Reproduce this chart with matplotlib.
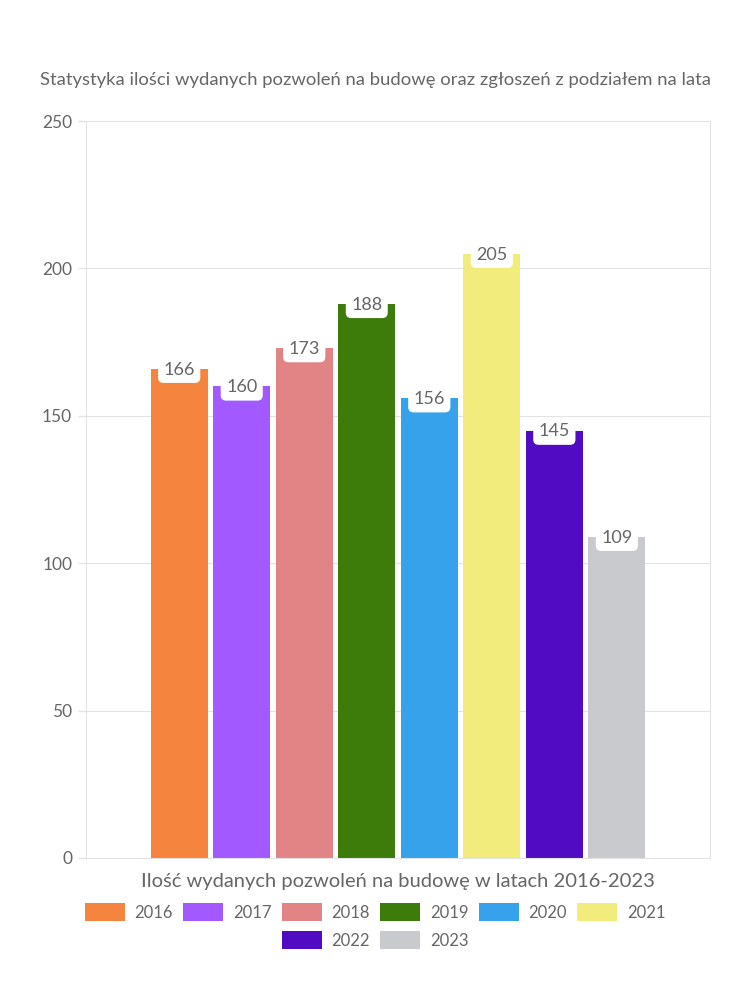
import matplotlib
matplotlib.use('Agg')
import matplotlib.pyplot as plt
from matplotlib.patches import Patch

years = ['2016', '2017', '2018', '2019', '2020', '2021', '2022', '2023']
permits = [166, 160, 173, 188, 156, 205, 145, 109]
colors = ['#F5843F', '#A259FF', '#E28385', '#3D7B0A', '#36A2EB', '#F1EC7C', '#510CC3', '#C9CACE']
yticks = [0, 50, 100, 150, 200, 250]

plt.rcParams['font.family'] = ['Lato', 'DejaVu Sans']
txt = '#666666'
grid = '#E3E3E3'

fig = plt.figure(figsize=(7.5, 10), dpi=100)
ax = fig.add_axes([0.1147, 0.142, 0.832, 0.737])

x = list(range(len(years)))
ax.bar(x, permits, width=0.91, color=colors, zorder=2)

# value labels sit in a white rounded box at the top of each bar
for xi, v in zip(x, permits):
    ax.text(xi, v - 0.3, str(v), ha='center', va='center', fontsize=13, color=txt, zorder=3,
            bbox=dict(boxstyle='round,pad=0.3,rounding_size=0.3', facecolor='white', edgecolor='none'))

ax.set_xlim(-1.49, 8.49)
ax.set_ylim(0, 250)
ax.set_yticks(yticks)
ax.set_xticks([])
ax.tick_params(axis='y', colors=grid, labelcolor=txt, labelsize=12.5, length=6, width=1, pad=4)
ax.grid(axis='y', color=grid, linewidth=0.8, zorder=0)
for s in ['left', 'right', 'top', 'bottom']:
    ax.spines[s].set_color(grid)
    ax.spines[s].set_linewidth(0.8)
ax.spines['top'].set_visible(False)

ax.set_xlabel('Ilość wydanych pozwoleń na budowę w latach 2016-2023', fontsize=14.5, color=txt, labelpad=11)
fig.text(0.5, 0.92, 'Statystyka ilości wydanych pozwoleń na budowę oraz zgłoszeń z podziałem na lata',
         ha='center', va='center', fontsize=13.3, color=txt)

handles = [Patch(facecolor=c, edgecolor='none') for c in colors]
leg_kw = dict(frameon=False, handlelength=2.4, handleheight=1.2, handletextpad=0.6,
              columnspacing=0.6, fontsize=12, labelcolor=txt)
fig.legend(handles[:6], years[:6], loc='center', bbox_to_anchor=(0.5, 0.088), ncol=6, **leg_kw)
fig.legend(handles[6:], years[6:], loc='center', bbox_to_anchor=(0.5, 0.060), ncol=2, **leg_kw)

plt.savefig('out.png', dpi=100)
